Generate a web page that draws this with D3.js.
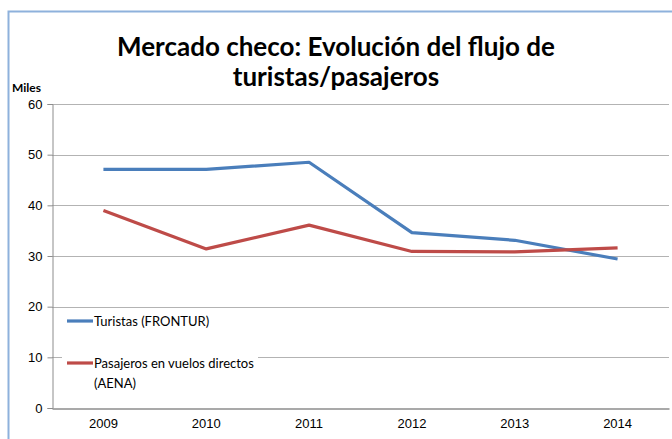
<!DOCTYPE html>
<html lang="es">
<head>
<meta charset="UTF-8">
<title>Mercado checo</title>
<script src="https://cdn.jsdelivr.net/npm/d3@7"></script>
<style>
    body { margin: 0; background: #fff; }
    svg { display: block; font-family: Lato, "Open Sans", sans-serif; }
</style>
</head>
<body>
<svg id="chart" width="672" height="439"></svg>
<script>
// datos (miles)
const years = ['2009', '2010', '2011', '2012', '2013', '2014'];
const turistas = [47.1, 47.1, 48.5, 34.6, 33.1, 29.4];
const pasajeros = [39.0, 31.4, 36.1, 30.9, 30.8, 31.6];
const yTicks = [0, 10, 20, 30, 40, 50, 60];
const seriesNames = ['Turistas (FRONTUR)', 'Pasajeros en vuelos directos (AENA)'];

const svg = d3.select('#chart');
const margin = { left: 52, right: 3, top: 104, bottom: 31 };
const W = 672, H = 439;

// marco exterior
svg.append('path')
    .attr('d', 'M8.5,439 V11.5 H672')
    .attr('fill', 'none')
    .attr('stroke', '#8eb1dc')
    .attr('stroke-width', 2);

const x = d3.scaleBand().domain(years).range([margin.left, W - margin.right]);
const y = d3.scaleLinear().domain([0, 60]).range([H - margin.bottom, margin.top]);

// rejilla
svg.append('g')
    .selectAll('line')
    .data(yTicks.filter(d => d > 0))
    .join('line')
    .attr('x1', margin.left).attr('x2', W - margin.right)
    .attr('y1', d => Math.round(y(d)) + 0.5).attr('y2', d => Math.round(y(d)) + 0.5)
    .attr('stroke', '#b3b3b3').attr('stroke-width', 1.2);

// eje Y
const yAxis = svg.append('g')
    .attr('transform', `translate(${margin.left + 0.5},0)`)
    .call(d3.axisLeft(y).tickValues(yTicks).tickSize(5).tickPadding(5));
yAxis.select('.domain').attr('stroke', '#8c8c8c');
yAxis.selectAll('.tick line').attr('stroke', '#8c8c8c');
yAxis.selectAll('text').attr('font-size', 13).attr('fill', '#000');

// eje X
const xAxis = svg.append('g')
    .attr('transform', `translate(0,${Math.round(y(0)) + 0.5})`)
    .call(d3.axisBottom(x).tickSize(0).tickPadding(10));
xAxis.select('.domain').attr('stroke', '#8c8c8c').attr('stroke-width', 1.5);
xAxis.selectAll('text').attr('font-size', 13).attr('fill', '#000');

// leyenda (fondo blanco sobre la rejilla)
const legend = svg.append('g');
legend.append('rect')
    .attr('x', 62).attr('y', 312).attr('width', 196).attr('height', 84)
    .attr('fill', '#fff');

const line = d3.line()
    .x((d, i) => x(years[i]) + x.bandwidth() / 2)
    .y(d => y(d));

const series = [
    { name: seriesNames[0], values: turistas, color: '#4a7ebb' },
    { name: seriesNames[1], values: pasajeros, color: '#be4b48' }
];

series.forEach(s => {
    svg.append('path')
        .datum(s.values)
        .attr('d', line)
        .attr('fill', 'none')
        .attr('stroke', s.color)
        .attr('stroke-width', 3.2)
        .attr('stroke-linejoin', 'round');
});

// entradas de la leyenda
const legendRows = [
    { y: 321, lines: ['Turistas (FRONTUR)'], color: series[0].color },
    { y: 363, lines: ['Pasajeros en vuelos directos', '(AENA)'], color: series[1].color }
];
legendRows.forEach(r => {
    legend.append('line')
        .attr('x1', 67).attr('x2', 93)
        .attr('y1', r.y).attr('y2', r.y)
        .attr('stroke', r.color).attr('stroke-width', 3.2);
    const t = legend.append('text')
        .attr('x', 94).attr('y', r.y + 5)
        .attr('font-size', 13).attr('fill', '#000');
    r.lines.forEach((l, i) => {
        t.append('tspan').attr('x', 94).attr('dy', i === 0 ? 0 : 20).text(l);
    });
});

// títulos
const title = svg.append('text')
    .attr('x', 336).attr('text-anchor', 'middle')
    .attr('font-size', 26).attr('font-weight', 'bold').attr('fill', '#000');
title.append('tspan').attr('x', 336).attr('y', 56).text('Mercado checo: Evolución del flujo de');
title.append('tspan').attr('x', 336).attr('y', 86).text('turistas/pasajeros');

svg.append('text')
    .attr('x', 12).attr('y', 92)
    .attr('font-size', 12).attr('font-weight', 'bold').attr('fill', '#000')
    .text('Miles');
</script>
</body>
</html>
